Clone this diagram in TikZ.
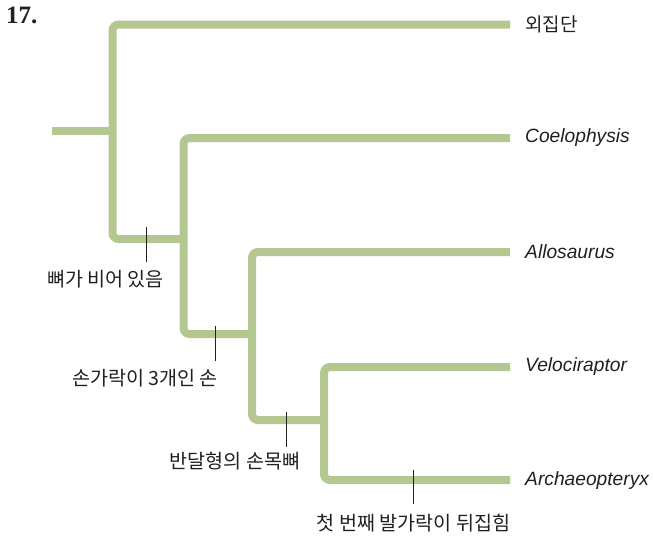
\documentclass[tikz,border=0pt]{standalone}
\usepackage{fontspec}
\newfontfamily\krfont{Noto Sans CJK KR}
\newfontfamily\latfont{Liberation Sans}
\newfontfamily\numfont{Liberation Serif}
\definecolor{branch}{HTML}{B4C790}
\definecolor{ink}{HTML}{231F20}
\tikzset{
  x=1pt, y=-1pt,
  branchline/.style={draw=branch, line width=8pt, rounded corners=6pt},
  tickline/.style={draw=ink, line width=1pt},
  taxon/.style={anchor=west, inner sep=0pt, text=ink, font=\latfont\itshape\fontsize{19.2}{21}\selectfont},
  krtaxon/.style={anchor=west, inner sep=0pt, text=ink, font=\krfont\fontsize{19}{21}\selectfont},
  trait/.style={anchor=center, inner sep=0pt, text=ink, font=\krfont\fontsize{19.6}{21}\selectfont},
}
\begin{document}
\begin{tikzpicture}
\useasboundingbox (0,0) rectangle (653,539);
% title
\node[anchor=north west, inner sep=0pt, text=ink, font=\numfont\bfseries\fontsize{25}{26}\selectfont] (num) at (6,7) {17.};
% branch coordinates
\coordinate (root) at (52,131);
\coordinate (n1) at (112.5,131);
\coordinate (e0) at (510,24.5);
\coordinate (e1) at (510,138);
\coordinate (e2) at (510,252);
\coordinate (e3) at (510,367);
\coordinate (e4) at (510,480);
\coordinate (v1t) at (112.5,24.5);
\coordinate (v1b) at (112.5,239);
\coordinate (v2t) at (183.5,138);
\coordinate (v2b) at (183.5,334);
\coordinate (v3t) at (252,252);
\coordinate (v3b) at (252,420);
\coordinate (v4t) at (324,367);
\coordinate (v4b) at (324,480);
% branches
\path[branchline] (root) -- (n1);
\path[branchline] (e0) -- (v1t) -- (v1b) -- (v2b |- v1b);
\path[branchline] (e1) -- (v2t) -- (v2b) -- (v3t |- v2b);
\path[branchline] (e2) -- (v3t) -- (v3b) -- (v4t |- v3b);
\path[branchline] (e3) -- (v4t) -- (v4b) -- (e4);
% taxa
\node[krtaxon] (t0) at (525,24) {외집단};
\node[taxon] (t1) at (525,138) {Coelophysis};
\node[taxon] (t2) at (525,252) {Allosaurus};
\node[taxon] (t3) at (525,367) {Velociraptor};
\node[taxon] (t4) at (525,481) {Archaeopteryx};
% trait ticks
\coordinate (k1a) at (146,227); \coordinate (k1b) at (146,262);
\coordinate (k2a) at (215.5,326); \coordinate (k2b) at (215.5,361);
\coordinate (k3a) at (286,412); \coordinate (k3b) at (286,447);
\coordinate (k4a) at (413,470); \coordinate (k4b) at (413,504);
\draw[tickline] (k1a) -- (k1b);
\draw[tickline] (k2a) -- (k2b);
\draw[tickline] (k3a) -- (k3b);
\draw[tickline] (k4a) -- (k4b);
% trait labels
\node[trait] (c1) at (105.5,279) {뼈가 비어 있음};
\node[trait] (c2) at (145,378) {손가락이 3개인 손};
\node[trait] (c3) at (235,461) {반달형의 손목뼈};
\node[trait] (c4) at (413.5,523) {첫 번째 발가락이 뒤집힘};
\end{tikzpicture}
\end{document}
